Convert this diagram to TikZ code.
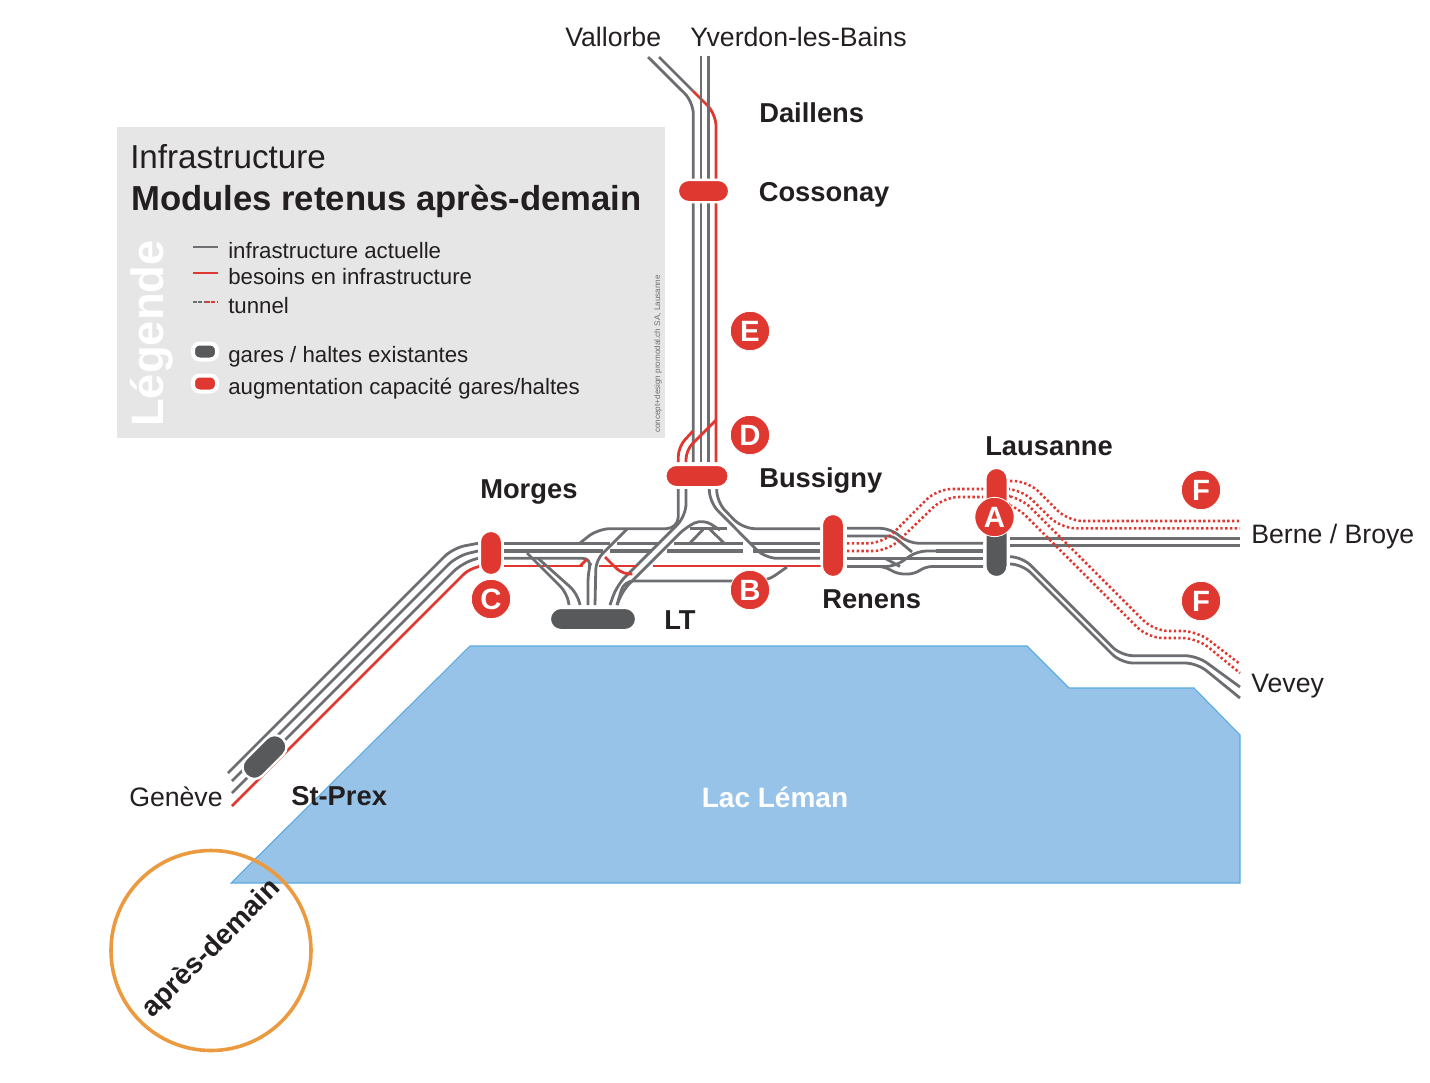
\documentclass[tikz,border=0pt]{standalone}
\usepackage{fontspec}
\setmainfont{Liberation Sans}
\definecolor{tgray}{HTML}{6D6E71}
\definecolor{tred}{HTML}{DF3831}
\definecolor{sdark}{HTML}{58595B}
\definecolor{lakefill}{HTML}{98C3E8}
\definecolor{lakeline}{HTML}{5AABE0}
\definecolor{legbg}{HTML}{E6E6E6}
\definecolor{orangeline}{HTML}{EB9A3F}
\definecolor{txt}{HTML}{231F20}
\tikzset{
  x=0.75pt,y=-0.75pt,
  grayline/.style={draw=tgray,line width=2.1pt,rounded corners=9pt},
  thickline/.style={draw=tgray,line width=2.6pt},
  redline/.style={draw=tred,line width=2.1pt,rounded corners=9pt},
  reddots/.style={draw=tred,line width=1.9pt,dash pattern=on 1.8pt off 1.8pt,rounded corners=11pt},
  stationred/.style={fill=tred,draw=white,line width=1.8pt,rounded corners=8.4pt,inner sep=0pt},
  stationdark/.style={fill=sdark,draw=white,line width=1.8pt,rounded corners=8.4pt,inner sep=0pt},
  marker/.style={circle,fill=tred,draw=white,line width=0.6pt,minimum size=29.5pt,inner sep=0pt,text=white,font=\fontsize{22}{22}\selectfont\bfseries},
  placelbl/.style={anchor=base west,inner sep=0pt,text=txt,font=\fontsize{20}{22}\selectfont},
  boldlbl/.style={anchor=base west,inner sep=0pt,text=txt,font=\fontsize{20.5}{22}\selectfont\bfseries},
  leglbl/.style={anchor=base west,inner sep=0pt,text=txt,font=\fontsize{16.7}{20}\selectfont},
}
\begin{document}
\begin{tikzpicture}
\useasboundingbox (0,0) rectangle (1430,1082);
% lake
\fill[lakefill,draw=lakeline,line width=0.8pt] (231,883)--(470,646)--(1027,646)--(1069,688)--(1194,688)--(1240,735)--(1240,883)--cycle;
\node[anchor=base,inner sep=0pt,text=white,font=\fontsize{21}{22}\selectfont\bfseries] (lac) at (775,807) {Lac Léman};
% legend
\fill[legbg] (117,127) rectangle (665,438);
\node[anchor=base west,inner sep=0pt,text=txt,font=\fontsize{24.9}{28}\selectfont] (ltitle) at (130,168) {Infrastructure};
\node[anchor=base west,inner sep=0pt,text=txt,font=\fontsize{26}{28}\selectfont\bfseries] (lsub) at (131,210.5) {Modules retenus après-demain};
\node[rotate=90,anchor=base west,inner sep=0pt,text=white,font=\fontsize{34}{36}\selectfont\bfseries] (lleg) at (163,427) {Légende};
\draw[tgray,line width=2.2pt] (193,247)--(218,247);
\draw[tred,line width=2.2pt] (193,273)--(218,273);
\draw[tgray,line width=2.2pt,dash pattern=on 3pt off 1pt] (193,302)--(206,302);
\draw[tred,line width=2.2pt,dash pattern=on 3pt off 1pt] (206,302)--(218,302);
\fill[sdark,draw=white,line width=3pt,rounded corners=5pt] (193,343.5) rectangle (217,359.5);
\fill[tred,draw=white,line width=3pt,rounded corners=5pt] (193,375.5) rectangle (217,391.5);
\node[leglbl] (l1) at (228,258) {infrastructure actuelle};
\node[leglbl] (l2) at (228,284) {besoins en infrastructure};
\node[leglbl] (l3) at (228,313) {tunnel};
\node[leglbl] (l4) at (228,362) {gares / haltes existantes};
\node[leglbl] (l5) at (228,394) {augmentation capacité gares/haltes};
\node[rotate=90,anchor=base west,inner sep=0pt,text=tgray,font=\fontsize{6.1}{6.5}\selectfont] (credit) at (660,433) {concept+design promodal.ch SA, Lausanne};
% north
\draw[grayline] (648,57)--(693.3,102)--(693.3,462);
\draw[grayline] (659,57)--(693,91);
\draw[redline] (693,91)--(716,114)--(716,462);
\draw[tgray,line width=2.1pt] (701,56)--(701,462) (708.3,56)--(708.3,462);
\draw[redline,rounded corners=7pt] (693,431)--(678.3,447)--(678.3,462);
\draw[redline,rounded corners=7pt] (716,420)--(686,450)--(686,462);
% below Bussigny
\draw[grayline] (678.3,489)--(678.3,528.7)--(598,528.7)--(580,543);
\draw[grayline] (686,489)--(686,516)--(617,585)--(610,605);
\draw[grayline] (716.7,489)--(716.7,502)--(743,528.7)--(820,528.7);
\draw[grayline] (709.3,489)--(709.3,502)--(765,558.3)--(820,558.3);
\draw[grayline,rounded corners=7pt] (617,605)--(623,590)--(686,527)--(703,519)--(720,530);
\draw[tgray,line width=2.1pt] (690,528.7)--(727,528.7);
\draw[tgray,line width=2.1pt] (690,543)--(703,529.5) (710,529.5)--(724,543);
% horizontals Morges - Renens
\draw[thickline] (504,543.3)--(610,543.3) (617,543.3)--(659,543.3) (674,543.3)--(743,543.3) (750,543.3)--(820,543.3);
\draw[thickline] (504,551)--(603,551) (610,551)--(652,551) (667,551)--(743,551) (753,551)--(820,551);
\draw[grayline,rounded corners=7pt] (504,558.3)--(592,558.3)--(588,572)--(588,605);
\draw[grayline,rounded corners=7pt] (627,529)--(596,560)--(595,605);
\draw[redline,rounded corners=0pt] (504,566)--(583,566) (599,566)--(637,566) (653,566)--(823,566);
\draw[redline,rounded corners=0pt] (580,566)--(587,559);
\draw[redline,rounded corners=7pt] (605,557)--(623,575)--(632,574);
% to LT
\draw[grayline,rounded corners=7pt] (527,553)--(567,593)--(569,605);
\draw[grayline,rounded corners=7pt] (538,558.3)--(577,593)--(580,605);
\draw[grayline,rounded corners=7pt] (617,605)--(624,581)--(767,581)--(787,567);
% west
\draw[grayline] (228,773)--(453,548)--(478,543.3);
\draw[grayline] (232,781)--(457,556)--(478,551);
\draw[grayline] (232,793)--(462,563)--(478,558.3);
\draw[redline] (232,806)--(472,566)--(478,566);
% Renens to Lausanne
\draw[grayline,rounded corners=8pt] (847,528.3)--(891,528.3)--(908,543.3)--(983,543.3);
\draw[grayline,rounded corners=4pt] (847,536)--(893,536)--(912,552);
\draw[grayline,rounded corners=5pt] (847,558.3)--(983,558.3);
\draw[grayline,rounded corners=5pt] (885,558.3)--(900,566.5);
\draw[grayline,rounded corners=5pt] (847,566.5)--(885,566.5)--(897,574)--(915,574)--(925,566.5)--(983,566.5);
\draw[grayline,rounded corners=7pt] (880,566.5)--(895,566.5)--(917,551)--(940,551);
\draw[thickline] (936,551)--(983,551);
\draw[reddots] (847,543.3)--(883,543.3)--(937,489)--(983,489);
\draw[reddots] (847,551)--(888,551)--(944,497)--(983,497);
% East
\draw[thickline] (1010,538.7)--(1240,538.7) (1010,545.3)--(1240,545.3);
\draw[grayline] (1010,556.7)--(1022,556.7)--(1121,655.7)--(1197,655.7)--(1240,687);
\draw[grayline] (1010,564)--(1022,564)--(1121,663)--(1197,663)--(1240,698);
\draw[reddots] (1010,481)--(1028,481)--(1068,521)--(1240,521);
\draw[reddots] (1010,489)--(1021,489)--(1061,528.3)--(1240,528.3);
\draw[reddots] (1010,496)--(1020,497)--(1154,631)--(1197,631)--(1240,664);
\draw[reddots] (1010,504)--(1015,505)--(1148,638)--(1197,638)--(1240,673);
% stations
\node[stationred,minimum width=47.6pt,minimum height=16.8pt] (bussigny) at (697,476) {};
\node[stationred,minimum width=38.6pt,minimum height=16.8pt] (cossonay) at (703.5,191) {};
\node[stationred,minimum width=16.8pt,minimum height=33.3pt] (morges) at (491,553) {};
\node[stationred,minimum width=16.8pt,minimum height=47.5pt] (renens) at (833,545.5) {};
\node[stationdark,minimum width=64.8pt,minimum height=16.8pt] (lt) at (593,619) {};
\node[stationdark,rotate=45,minimum width=39pt,minimum height=17.5pt] (stprex) at (264.5,757) {};
\fill[sdark,draw=white,line width=1.8pt,rounded corners=8.4pt] (985.3,500) rectangle (1007.7,577.2);
\fill[tred,draw=white,line width=1.8pt,rounded corners=8.4pt] (985.3,467.8) rectangle (1007.7,530);
\node[marker] (ma) at (994.5,517) {A};
\node[marker] (mb) at (750,590) {B};
\node[marker] (mc) at (491,599) {C};
\node[marker] (md) at (750,435) {D};
\node[marker] (me) at (750,331) {E};
\node[marker] (mf) at (1201,490) {F};
\node[marker] (mg) at (1201,601) {F};
% labels
\node[placelbl] (vallorbe) at (565,46) {Vallorbe};
\node[placelbl] (yverdon) at (690,46) {Yverdon-les-Bains};
\node[placelbl] (geneve) at (129,806) {Genève};
\node[placelbl] (berne) at (1251,543) {Berne / Broye};
\node[placelbl] (vevey) at (1251,692) {Vevey};
\node[boldlbl] (tdaillens) at (759,122) {Daillens};
\node[boldlbl] (tcossonay) at (758.5,201) {Cossonay};
\node[boldlbl] (tbussigny) at (759,487) {Bussigny};
\node[boldlbl] (tlausanne) at (985,455) {Lausanne};
\node[boldlbl] (tmorges) at (480,498) {Morges};
\node[boldlbl] (trenens) at (822,608) {Renens};
\node[boldlbl] (tlt) at (664,629) {LT};
\node[boldlbl] (tstprex) at (291,805) {St-Prex};
% scenario circle
\node[circle,draw=orangeline,line width=2.7pt,minimum size=150pt,inner sep=0pt] (ring) at (211,950.5) {};
\node[rotate=45,inner sep=0pt,text=txt,font=\fontsize{21}{22}\selectfont\bfseries] (apres) at (212,949) {après-demain};
\end{tikzpicture}
\end{document}
